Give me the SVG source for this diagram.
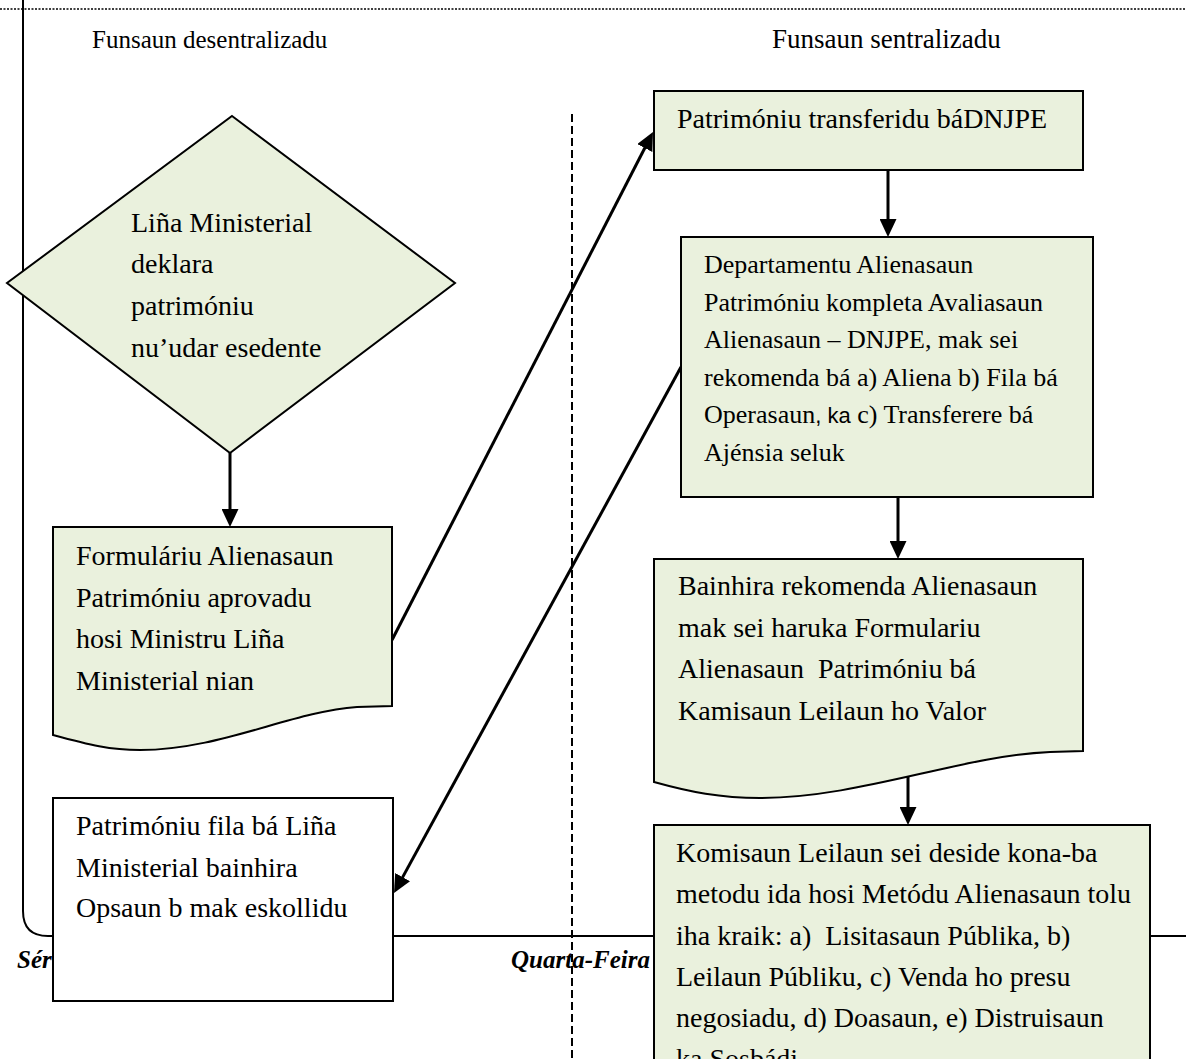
<svg xmlns="http://www.w3.org/2000/svg" width="1186" height="1059" viewBox="0 0 1186 1059">
<style>
  .t { font-family: "Liberation Serif", "Times New Roman", serif; fill: #000; }
  .b28 { font-size: 28px; }
  .b26 { font-size: 26px; }
  .hd { font-size: 25px; }
  .hd2 { font-size: 27px; }
  .day { font-family: "Liberation Serif", "Times New Roman", serif; font-size: 25px; font-weight: bold; font-style: italic; }
  .node { fill: #EAF1DD; stroke: #000; stroke-width: 2; }
  .white { fill: #FFFFFF; stroke: #000; stroke-width: 2; }
  .conn { fill: none; stroke: #000; stroke-width: 3; }
  .lane { fill: none; stroke: #000; stroke-width: 2; }
</style>
<defs>
  <marker id="ah" markerUnits="userSpaceOnUse" markerWidth="19" markerHeight="17" refX="13" refY="8.5" orient="auto">
    <path d="M0,0 L18,8.5 L0,17 Z" fill="#000"/>
  </marker>
</defs>
<rect x="0" y="0" width="1186" height="1059" fill="#FFFFFF"/>

<g id="lanes">
  <line x1="0" y1="9" x2="1186" y2="9" stroke="#000" stroke-width="1.5" stroke-dasharray="2,1.5"/>
  <path class="lane" d="M23,0 V911 Q23,936 48,936 H1186"/>
  <line x1="572" y1="114" x2="572" y2="1059" stroke="#000" stroke-width="2" stroke-dasharray="8,4"/>
  <text class="t hd" x="92" y="48">Funsaun desentralizadu</text>
  <text class="t hd2" x="772" y="48">Funsaun sentralizadu</text>
  <text class="day" x="17" y="968">Sér</text>
  <text class="day" x="511" y="968">Quarta-Feira</text>
</g>

<g id="connectors">
  <path class="conn" d="M230,453 V522" marker-end="url(#ah)"/>
  <path class="conn" d="M392,640 L650.7,136.5" marker-end="url(#ah)"/>
  <path class="conn" d="M888,170 V232" marker-end="url(#ah)"/>
  <path class="conn" d="M681,367 L396.4,888.6" marker-end="url(#ah)"/>
  <path class="conn" d="M898,497 V554" marker-end="url(#ah)"/>
  <path class="conn" d="M908,775 V820" marker-end="url(#ah)"/>
</g>

<g id="node-decision">
  <polygon class="node" stroke-width="1.5" points="232,116 455,283 230,453 7,283"/>
  <text class="t b28" x="131" y="232">Liña Ministerial</text>
  <text class="t b28" x="131" y="273">deklara</text>
  <text class="t b28" x="131" y="315">patrimóniu</text>
  <text class="t b28" x="131" y="357">nu’udar esedente</text>
</g>

<g id="node-formulariu">
  <path class="node" d="M53,527 H392 V706 L357,707 C290,712 220,750 140,750 C110,750 90,745 53,735 Z"/>
  <text class="t b28" x="76" y="565">Formuláriu Alienasaun</text>
  <text class="t b28" x="76" y="607">Patrimóniu aprovadu</text>
  <text class="t b28" x="76" y="648">hosi Ministru Liña</text>
  <text class="t b28" x="76" y="690">Ministerial nian</text>
</g>

<g id="node-fila">
  <rect class="white" x="53" y="798" width="340" height="203"/>
  <text class="t b28" x="76" y="835">Patrimóniu fila bá Liña</text>
  <text class="t b28" x="76" y="877">Ministerial bainhira</text>
  <text class="t b28" x="76" y="917">Opsaun b mak eskollidu</text>
</g>

<g id="node-transferidu">
  <rect class="node" x="654" y="91" width="429" height="79"/>
  <text class="t b28" x="677" y="128">Patrimóniu transferidu báDNJPE</text>
</g>

<g id="node-departamentu">
  <rect class="node" x="681" y="237" width="412" height="260"/>
  <text class="t b26" x="704" y="273">Departamentu Alienasaun</text>
  <text class="t b26" x="704" y="311">Patrimóniu kompleta Avaliasaun</text>
  <text class="t b26" x="704" y="348">Alienasaun – DNJPE, mak sei</text>
  <text class="t b26" x="704" y="386">rekomenda bá a) Aliena b) Fila bá</text>
  <text class="t b26" x="704" y="423">Operasaun<tspan font-family="'Liberation Sans', Arial, sans-serif" font-size="22">, ka</tspan> c) Transferere bá</text>
  <text class="t b26" x="704" y="461">Ajénsia seluk</text>
</g>

<g id="node-bainhira">
  <path class="node" d="M654,559 H1083 V751 L1050,752 C960,756 860,798 760,798 C720,798 690,792 654,782 Z"/>
  <text class="t b28" x="678" y="595">Bainhira rekomenda Alienasaun</text>
  <text class="t b28" x="678" y="637">mak sei haruka Formulariu</text>
  <text class="t b28" x="678" y="678" xml:space="preserve">Alienasaun  Patrimóniu bá</text>
  <text class="t b28" x="678" y="720">Kamisaun Leilaun ho Valor</text>
</g>

<g id="node-komisaun">
  <rect class="node" x="654" y="825" width="496" height="260"/>
  <text class="t b28" x="676" y="862">Komisaun Leilaun sei deside kona-ba</text>
  <text class="t b28" x="676" y="903">metodu ida hosi Metódu Alienasaun tolu</text>
  <text class="t b28" x="676" y="945" xml:space="preserve">iha kraik: a)  Lisitasaun Públika, b)</text>
  <text class="t b28" x="676" y="986">Leilaun Públiku, c) Venda ho presu</text>
  <text class="t b28" x="676" y="1027">negosiadu, d) Doasaun, e) Distruisaun</text>
  <text class="t b28" x="676" y="1068">ka Sosbádi</text>
</g>
</svg>
